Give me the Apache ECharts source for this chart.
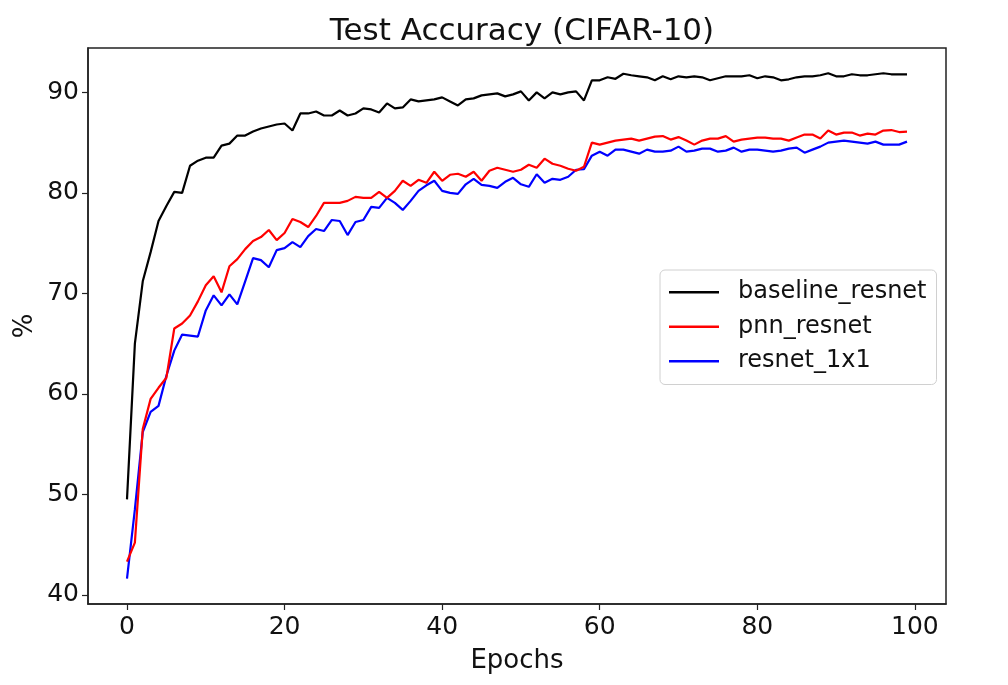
<!DOCTYPE html>
<html>
<head>
<meta charset="utf-8">
<script src="https://cdn.jsdelivr.net/npm/echarts@6/dist/echarts.min.js"></script>
<style>
html,body{margin:0;padding:0;background:#fff;}
#chart{width:1008px;height:685px;}
</style>
</head>
<body>
<div id="chart"></div>
<script>
const titleText = 'Test Accuracy (CIFAR-10)';
const xName = 'Epochs';
const yName = '%';
const seriesNames = ['baseline_resnet', 'pnn_resnet', 'resnet_1x1'];
const xTicks = [0, 20, 40, 60, 80, 100];
const yTicks = [40, 50, 60, 70, 80, 90];

const baseline = [
 49.5, 65.0, 71.2, 74.1, 77.2, 78.7, 80.1, 80.0, 82.7, 83.2,
 83.5, 83.5, 84.7, 84.9, 85.7, 85.7, 86.1, 86.4, 86.6, 86.8,
 86.9, 86.2, 87.9, 87.9, 88.1, 87.7, 87.7, 88.2, 87.7, 87.9,
 88.4, 88.3, 88.0, 88.9, 88.4, 88.5, 89.3, 89.1, 89.2, 89.3,
 89.5, 89.1, 88.7, 89.3, 89.4, 89.7, 89.8, 89.9, 89.6, 89.8,
 90.1, 89.2, 90.0, 89.4, 90.0, 89.8, 90.0, 90.1, 89.2, 91.2,
 91.2, 91.5, 91.35, 91.85, 91.7, 91.6, 91.5, 91.2, 91.6, 91.3,
 91.6, 91.5, 91.6, 91.5, 91.2, 91.4, 91.6, 91.6, 91.6, 91.7,
 91.4, 91.6, 91.5, 91.2, 91.3, 91.5, 91.6, 91.6, 91.7, 91.9,
 91.6, 91.6, 91.8, 91.7, 91.7, 91.8, 91.9, 91.8, 91.8, 91.8
];
const pnn = [
 43.3, 45.2, 56.5, 59.5, 60.6, 61.6, 66.5, 67.0, 67.8, 69.2,
 70.8, 71.7, 70.1, 72.7, 73.4, 74.4, 75.2, 75.6, 76.3, 75.3,
 76.0, 77.4, 77.1, 76.6, 77.7, 79.0, 79.0, 79.0, 79.2, 79.6,
 79.5, 79.5, 80.1, 79.5, 80.2, 81.2, 80.7, 81.3, 81.0, 82.1,
 81.2, 81.8, 81.9, 81.6, 82.1, 81.2, 82.2, 82.5, 82.3, 82.1,
 82.3, 82.8, 82.5, 83.4, 82.9, 82.7, 82.4, 82.2, 82.6, 85.0,
 84.8, 85.0, 85.2, 85.3, 85.4, 85.2, 85.4, 85.6, 85.65, 85.3,
 85.55, 85.2, 84.8, 85.2, 85.4, 85.4, 85.65, 85.1, 85.3, 85.4,
 85.5, 85.5, 85.4, 85.4, 85.2, 85.5, 85.8, 85.8, 85.4, 86.2,
 85.8, 86.0, 86.0, 85.7, 85.9, 85.8, 86.2, 86.25, 86.05, 86.1
];
const resnet1x1 = [
 41.6, 48.5, 56.2, 58.2, 58.8, 61.8, 64.3, 65.9, 65.8, 65.7,
 68.3, 69.8, 68.8, 69.9, 68.9, 71.2, 73.5, 73.3, 72.6, 74.3,
 74.5, 75.1, 74.6, 75.7, 76.4, 76.2, 77.3, 77.2, 75.8, 77.1,
 77.3, 78.6, 78.5, 79.5, 79.0, 78.3, 79.2, 80.2, 80.75, 81.2,
 80.2, 80.0, 79.9, 80.85, 81.4, 80.8, 80.7, 80.5, 81.1, 81.5,
 80.85, 80.6, 81.85, 81.0, 81.4, 81.3, 81.6, 82.3, 82.35, 83.7,
 84.1, 83.7, 84.3, 84.3, 84.1, 83.9, 84.3, 84.1, 84.1, 84.2,
 84.6, 84.1, 84.2, 84.4, 84.4, 84.1, 84.2, 84.5, 84.1, 84.3,
 84.3, 84.2, 84.1, 84.2, 84.4, 84.5, 84.0, 84.3, 84.6, 85.0,
 85.1, 85.2, 85.1, 85.0, 84.9, 85.1, 84.8, 84.8, 84.8, 85.1
];
const colors = ['#000000', '#ff0000', '#0000ff'];

const allData = [baseline, pnn, resnet1x1];
const FONT = 'DejaVu Sans';
const chart = echarts.init(document.getElementById('chart'), null, {renderer: 'canvas'});

const nPts = baseline.length;
const xPad = (nPts - 1) * 0.05;
const flat = allData.flat();
const yMinD = Math.min(...flat), yMaxD = Math.max(...flat);
const yPad = (yMaxD - yMinD) * 0.05;

const option = {
  animation: false,
  backgroundColor: '#ffffff',
  textStyle: {fontFamily: FONT},
  title: {
    text: titleText,
    left: 517,
    textAlign: 'center',
    top: 11,
    textStyle: {fontFamily: FONT, fontSize: 31, fontWeight: 'normal', color: '#111'}
  },
  grid: {
    left: 88, right: 62, top: 48, bottom: 81,
    show: true, borderColor: '#222', borderWidth: 1.5, backgroundColor: 'transparent'
  },
  legend: {
    orient: 'vertical',
    left: 660,
    top: 270,
    padding: [9, 10, 10, 9],
    itemWidth: 50,
    itemHeight: 2.5,
    itemGap: 8,
    icon: 'rect',
    backgroundColor: 'rgba(255,255,255,0.85)',
    borderColor: '#d0d0d0',
    borderWidth: 1,
    borderRadius: 5,
    textStyle: {fontFamily: FONT, fontSize: 24, color: '#111', padding: [0, 0, 0, 14], lineHeight: 26.5},
    data: seriesNames
  },
  xAxis: {
    type: 'value',
    min: -xPad,
    max: (nPts - 1) + xPad,
    name: xName,
    nameLocation: 'middle',
    nameGap: 44,
    nameMoveOverlap: false,
    nameTextStyle: {fontFamily: FONT, fontSize: 26, color: '#111'},
    axisLine: {show: true, onZero: false, lineStyle: {color: '#222', width: 1.5}},
    axisTick: {show: true, length: 6, inside: false, customValues: xTicks, lineStyle: {color: '#222', width: 1.2}},
    axisLabel: {show: true, margin: 11, customValues: xTicks, fontFamily: FONT, fontSize: 25, color: '#111'},
    splitLine: {show: false}
  },
  yAxis: {
    type: 'value',
    min: yMinD - yPad,
    max: yMaxD + yPad,
    name: yName,
    nameLocation: 'middle',
    nameGap: 50,
    nameMoveOverlap: false,
    nameRotate: 90,
    nameTextStyle: {fontFamily: FONT, fontSize: 26, color: '#111'},
    axisLine: {show: true, onZero: false, lineStyle: {color: '#222', width: 1.5}},
    axisTick: {show: true, length: 6, inside: false, customValues: yTicks, lineStyle: {color: '#222', width: 1.2}},
    axisLabel: {show: true, margin: 9, customValues: yTicks, fontFamily: FONT, fontSize: 25, color: '#111'},
    splitLine: {show: false}
  },
  series: seriesNames.map((name, k) => ({
    name: name,
    type: 'line',
    data: allData[k].map((v, i) => [i, v]),
    showSymbol: false,
    symbol: 'none',
    lineStyle: {color: colors[k], width: 2.2},
    itemStyle: {color: colors[k]},
    z: 3 - k
  }))
};
chart.setOption(option);
</script>
</body>
</html>
